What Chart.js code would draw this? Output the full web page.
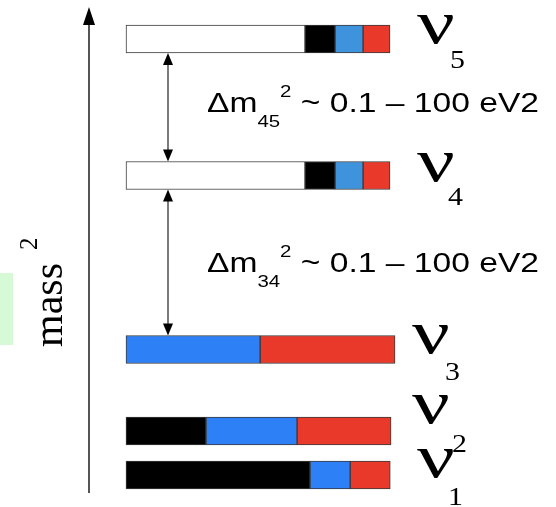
<!DOCTYPE html>
<html>
<head>
<meta charset="utf-8">
<script src="https://cdn.jsdelivr.net/npm/chart.js@4"></script>
<style>
  html, body { margin: 0; padding: 0; background: #fff; }
  #wrap { width: 556px; height: 507px; position: relative; }
</style>
</head>
<body>
<div id="wrap"><canvas id="massChart"></canvas></div>
<script>
// mass eigenstates, bottom to top
var states = ['1', '2', '3', '4', '5'];
// mass^2 level of each state (arbitrary units, drawn on a linear scale)
var massLevels = [32, 76, 157.5, 331.5, 468];
// flavour content of each state
var sterileFrac = [0, 0, 0, 0.678, 0.678];
var eFrac = [0.697, 0.303, 0, 0.114, 0.114];
var muFrac = [0.152, 0.345, 0.508, 0.106, 0.106];
var tauFrac = [0.152, 0.356, 0.511, 0.102, 0.102];
// splittings shown with arrows: [upper state index, lower state index, subscript]
var splittings = [[4, 3, '45'], [3, 2, '34']];
var splitText = ' ~ 0.1 \u2013 100 eV2';

var fracs = [sterileFrac, eFrac, muFrac, tauFrac];
var names = ['sterile', 'e', 'mu', 'tau'];
var colors = [
    ['#ffffff', '#ffffff', '#ffffff', '#ffffff', '#ffffff'],
    ['#000000', '#000000', '#000000', '#000000', '#000000'],
    ['#2e80f6', '#2e80f6', '#2e80f6', '#3e93dc', '#3e93dc'],
    ['#e8392a', '#e8392a', '#e8392a', '#e8392a', '#e8392a']
];

// floating segments built from cumulative fractions
var datasets = fracs.map(function(arr, k) {
    var pts = [], bg = [];
    arr.forEach(function(f, i) {
        if (f <= 0) return;
        var start = 0;
        for (var j = 0; j < k; j++) start += fracs[j][i];
        pts.push({ y: massLevels[i], x: [start, start + f] });
        bg.push(colors[k][i]);
    });
    return {
        label: names[k],
        data: pts,
        backgroundColor: bg,
        borderColor: '#3a3a3a',
        borderWidth: 1,
        borderSkipped: false,
        barThickness: 28,
        grouped: false
    };
});

function arrowHead(ctx, x, y, dir, w, len) {
    ctx.beginPath();
    ctx.moveTo(x, y);
    ctx.lineTo(x - w / 2, y + dir * len);
    ctx.lineTo(x + w / 2, y + dir * len);
    ctx.closePath();
    ctx.fill();
}

function stretchedText(ctx, txt, x, y, font, sx) {
    ctx.save();
    ctx.translate(x, y);
    ctx.scale(sx, 1);
    ctx.font = font;
    ctx.fillText(txt, 0, 0);
    ctx.restore();
}

// [nu baseline, subscript baseline, nu left, subscript left] relative to bar centre
var labelOffsets = [[2, 30, 417, 448], [-8, 21, 412, 452], [3.5, 30.5, 412, 445], [5.5, 29.5, 417, 448], [4, 29, 417, 450]];
var splitBase = [5, 9.5];

var decorPlugin = {
    id: 'decor',
    beforeDraw: function(chart) {
        var ctx = chart.ctx;
        ctx.save();
        ctx.fillStyle = '#d6fad6';
        ctx.fillRect(0, 273, 13, 72);
        ctx.restore();
    },
    afterDraw: function(chart) {
        var ctx = chart.ctx;
        var ys = chart.scales.y;
        ctx.save();
        ctx.textBaseline = 'alphabetic';

        // mass^2 axis
        ctx.strokeStyle = '#555';
        ctx.lineWidth = 2;
        ctx.beginPath();
        ctx.moveTo(89, 493);
        ctx.lineTo(89, 22);
        ctx.stroke();
        ctx.fillStyle = '#000';
        arrowHead(ctx, 89, 7, 1, 12, 18);

        ctx.save();
        ctx.translate(62, 347);
        ctx.rotate(-Math.PI / 2);
        ctx.fillStyle = '#000';
        ctx.font = '42px "Liberation Serif"';
        ctx.fillText('mass', 0, 0);
        ctx.font = '25px "Liberation Serif"';
        ctx.fillText('2', 97, -25);
        ctx.restore();

        // splitting arrows and text
        splittings.forEach(function(s, n) {
            var top = ys.getPixelForValue(massLevels[s[0]]) + 14;
            var bot = ys.getPixelForValue(massLevels[s[1]]) - 14;
            ctx.strokeStyle = '#222';
            ctx.lineWidth = 1.2;
            ctx.beginPath();
            ctx.moveTo(168, top + 8);
            ctx.lineTo(168, bot - 8);
            ctx.stroke();
            ctx.fillStyle = '#000';
            arrowHead(ctx, 168, top, 1, 10, 12);
            arrowHead(ctx, 168, bot, -1, 10, 12);

            var base = (top + bot) / 2 + splitBase[n];
            ctx.save();
            ctx.translate(207, base);
            ctx.scale(1.2, 1);
            ctx.font = '28px "Liberation Sans"';
            ctx.fillText('\u0394m', 0, 0);
            var x = ctx.measureText('\u0394m').width;
            ctx.font = '17px "Liberation Sans"';
            ctx.fillText(s[2], x, 15);
            x += ctx.measureText(s[2]).width;
            ctx.fillText('2', x, -15);
            x += ctx.measureText('2').width;
            ctx.font = '28px "Liberation Sans"';
            ctx.fillText(splitText, x, 0);
            ctx.restore();
        });

        // state labels
        states.forEach(function(s, i) {
            var yc = ys.getPixelForValue(massLevels[i]);
            var o = labelOffsets[i];
            ctx.fillStyle = '#000';
            stretchedText(ctx, '\u03bd', o[2], yc + o[0], '62px "Liberation Serif"', 1.35);
            stretchedText(ctx, s, o[3], yc + o[1], '26px "Liberation Serif"', 1.15);
        });
        ctx.restore();
    }
};

window.onload = function() {
    var ctx = document.getElementById('massChart').getContext('2d');
    window.massChart = new Chart(ctx, {
        type: 'bar',
        data: { datasets: datasets },
        options: {
            indexAxis: 'y',
            responsive: true,
            maintainAspectRatio: false,
            animation: false,
            layout: { padding: 0 },
            plugins: {
                legend: { display: false },
                tooltip: { enabled: false }
            },
            scales: {
                x: { type: 'linear', display: false, min: -126 / 264, max: 430 / 264 },
                y: { type: 'linear', display: false, offset: false, min: 0, max: 507 }
            }
        },
        plugins: [decorPlugin]
    });
};
</script>
</body>
</html>
